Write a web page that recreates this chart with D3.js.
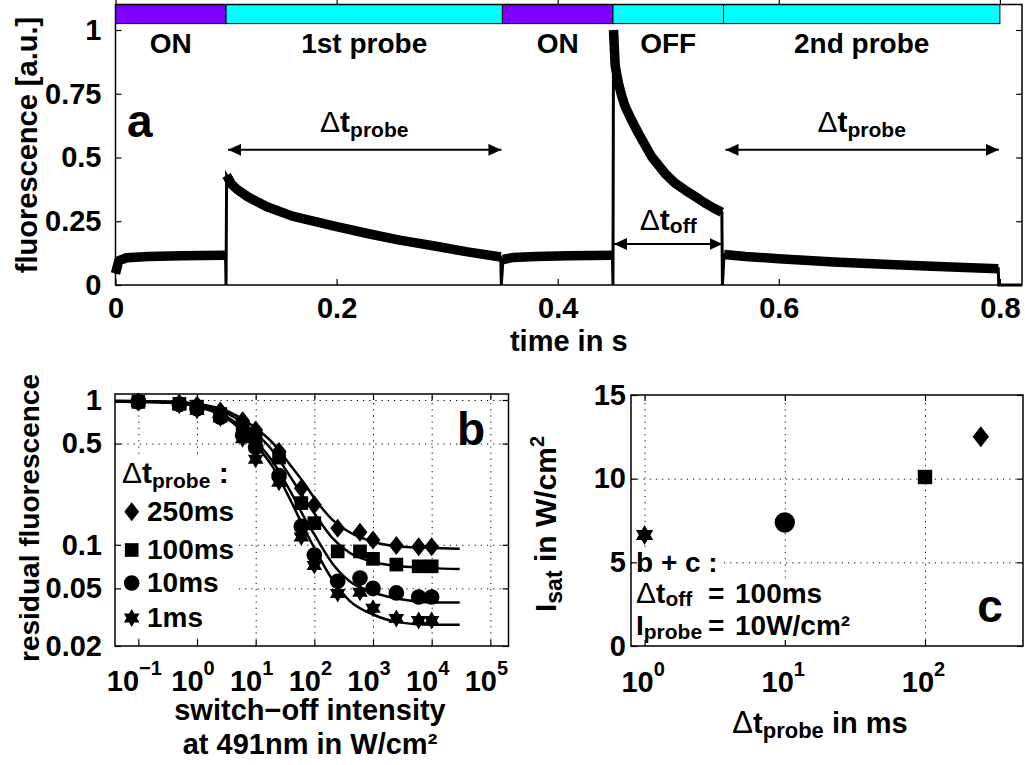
<!DOCTYPE html>
<html>
<head>
<meta charset="utf-8">
<script src="https://cdn.jsdelivr.net/npm/d3@7"></script>
<style>
  body { margin: 0; background: #fff; }
  text { font-family: "Liberation Sans", Arial, Helvetica, sans-serif; font-weight: bold; fill: #000; }
</style>
</head>
<body>
<svg id="fig" width="1025" height="765"></svg>
<script>
// ---------- panel a : fluorescence trace ----------
const phaseStart = [0, 0.1, 0.35, 0.45, 0.55];
const phaseEnd = [0.1, 0.35, 0.45, 0.55, 0.8];
const phaseKind = ["on", "probe", "on", "off", "probe"];
const phaseLabels = ["ON", "1st probe", "ON", "OFF", "2nd probe"];

// (band centre), 0 = switching gap
const traceTime = [0, 0.003, 0.01, 0.03, 0.06, 0.0995, 0.1, 0.1005, 0.105, 0.11, 0.12, 0.137, 0.16, 0.197, 0.23, 0.257, 0.29, 0.317, 0.3485,
  0.349, 0.3505, 0.36, 0.38, 0.41, 0.4495, 0.45, 0.4505, 0.452, 0.455, 0.458, 0.461, 0.467, 0.473, 0.485, 0.497, 0.506, 0.515, 0.525, 0.533, 0.541, 0.5485,
  0.549, 0.5505, 0.57, 0.6, 0.65, 0.7, 0.75, 0.7985, 0.799, 0.82];
const traceValue = [0.045, 0.095, 0.107, 0.112, 0.115, 0.117, 0, 0.43, 0.395, 0.375, 0.345, 0.307, 0.27, 0.232, 0.2, 0.176, 0.152, 0.131, 0.11,
  0, 0.1, 0.108, 0.112, 0.115, 0.117, 0, 1.0, 0.86, 0.79, 0.74, 0.7, 0.645, 0.595, 0.503, 0.438, 0.4, 0.373, 0.345, 0.322, 0.302, 0.285,
  0, 0.12, 0.112, 0.103, 0.09, 0.08, 0.072, 0.064, 0, 0];

const timeTicks = [0, 0.2, 0.4, 0.6, 0.8];
const fluorTicks = [0, 0.25, 0.5, 0.75, 1];
const probeArrowStart = [0.1, 0.55];
const probeArrowEnd = [0.35, 0.8];
const probeArrowLevel = 0.53;
const offArrowSpan = [0.45, 0.55];
const offArrowLevel = 0.161;

// ---------- panel b : residual fluorescence ----------
const intensity = [0.1, 0.5, 1, 2.5, 6, 10, 25, 60, 100, 250, 600, 1000, 2500, 6000, 10000];
const res250 = [0.97, 0.95, 0.92, 0.84, 0.72, 0.62, 0.44, 0.246, 0.189, 0.13, 0.122, 0.108, 0.099, 0.097, 0.097];
const res100 = [0.97, 0.94, 0.9, 0.8, 0.64, 0.55, 0.4, 0.194, 0.141, 0.09, 0.09, 0.08, 0.073, 0.071, 0.071];
const res10 = [0.97, 0.93, 0.87, 0.76, 0.57, 0.47, 0.3, 0.134, 0.085, 0.056, 0.059, 0.05, 0.0465, 0.0436, 0.0436];
const res1 = [0.96, 0.92, 0.85, 0.75, 0.54, 0.39, 0.27, 0.113, 0.072, 0.046, 0.047, 0.0365, 0.031, 0.03, 0.03];

const fitIntensity = [0.04, 0.1, 0.3, 1, 3, 10, 20, 40, 70, 100, 200, 400, 1000, 3000, 10000, 30000];
const fit250 = [0.985, 0.98, 0.975, 0.94, 0.85, 0.64, 0.5, 0.35, 0.26, 0.21, 0.15, 0.122, 0.105, 0.097, 0.095, 0.094];
const fit100 = [0.985, 0.98, 0.97, 0.93, 0.82, 0.59, 0.44, 0.29, 0.205, 0.165, 0.112, 0.088, 0.076, 0.071, 0.069, 0.068];
const fit10 = [0.975, 0.97, 0.96, 0.91, 0.78, 0.52, 0.37, 0.23, 0.15, 0.118, 0.075, 0.056, 0.047, 0.042, 0.04, 0.04];
const fit1 = [0.975, 0.97, 0.96, 0.9, 0.76, 0.49, 0.34, 0.2, 0.125, 0.095, 0.058, 0.041, 0.033, 0.029, 0.028, 0.028];

const seriesNames = ["250ms", "100ms", "10ms", "1ms"];
const intensityTicks = [0.1, 1, 10, 100, 1000, 10000, 100000];
const intensityExp = ["\u22121", "0", "1", "2", "3", "4", "5"];
const residualTicks = [0.02, 0.05, 0.1, 0.5, 1];

// ---------- panel c : saturation intensity ----------
const probeTime = [1, 10, 100, 250];
const iSat = [6.63, 7.38, 10.1, 12.5];
const probeTicks = [1, 10, 100];
const probeExp = ["0", "1", "2"];
const iSatTicks = [0, 5, 10, 15];

// ---------- styles ----------
const phaseColor = { on: "#8000ff", probe: "#00ffff", off: "#00ffff" };
const seriesSymbol = ["diamond", "square", "circle", "star"];
const FS = 27;     // text inside the plots
const TS = 29;     // tick labels
const LS = 29;     // axis titles

const svg = d3.select("#fig");
const defs = svg.append("defs");
defs.append("marker").attr("id", "head")
  .attr("viewBox", "0 0 13 12").attr("refX", 13).attr("refY", 6)
  .attr("markerWidth", 13).attr("markerHeight", 12)
  .attr("markerUnits", "userSpaceOnUse").attr("orient", "auto-start-reverse")
  .append("path").attr("d", "M0,0L13,6L0,12Z").attr("fill", "#000");

// text with sub / superscripts; parts: {t, sub, sup, light, size, x}
function rich(g, x, y, parts, opt = {}) {
  const t = g.append("text").attr("x", x).attr("y", y)
    .attr("font-size", opt.size || FS)
    .attr("text-anchor", opt.anchor || "start");
  if (opt.rotate) t.attr("transform", `rotate(${opt.rotate},${x},${y})`);
  let shift = 0;
  parts.forEach(p => {
    const s = t.append("tspan").text(p.t);
    const want = p.sub ? (p.shift || 7) : p.sup ? -(p.shift || 12) : 0;
    if (p.x != null) s.attr("x", p.x);
    if (want !== shift) { s.attr("dy", want - shift); shift = want; }
    if (p.sub || p.sup) s.attr("font-size", p.size || 19);
    else if (p.size) s.attr("font-size", p.size);
    if (p.light) s.attr("font-weight", "normal");
  });
  if (opt.bg) {
    const b = t.node().getBBox();
    g.insert("rect", () => t.node())
      .attr("x", b.x - 3).attr("y", b.y + 2).attr("width", b.width + 6).attr("height", b.height - 2)
      .attr("fill", "#fff");
  }
  return t;
}

function symbolPath(kind, s) {
  if (kind === "diamond") return `M0,${-s}L${s * 0.78},0L0,${s}L${-s * 0.78},0Z`;
  if (kind === "square") return `M${-s * 0.72},${-s * 0.72}h${s * 1.44}v${s * 1.44}h${-s * 1.44}Z`;
  if (kind === "circle") return d3.symbol(d3.symbolCircle, Math.PI * s * s * 0.85)();
  // hexagram
  const pts = d3.range(12).map(i => {
    const a = -Math.PI / 2 + i * Math.PI / 6;
    const r = i % 2 ? s / Math.sqrt(3) : s;
    return [r * Math.cos(a), r * Math.sin(a)];
  });
  return "M" + pts.join("L") + "Z";
}

function styleAxis(g) {
  g.select(".domain").remove();
  g.attr("font-family", null).attr("font-size", TS);
  g.selectAll(".tick line").attr("stroke", "#000").attr("stroke-width", 1.2);
  g.selectAll(".tick text").attr("font-size", TS).attr("fill", "#000");
}

function grid(g, axis) {
  g.call(axis);
  g.select(".domain").remove();
  g.selectAll(".tick line").attr("stroke", "#000").attr("stroke-width", 1)
    .attr("stroke-dasharray", "1.2,5");
  g.selectAll(".tick text").remove();
}

// ================= panel a =================
const xA = d3.scaleLinear().domain([0, 0.82]).range([115.5, 1022]);
const yA = d3.scaleLinear().domain([0, 1.1]).range([285, 4.5]);
const gA = svg.append("g");

const trace = traceTime.map((t, i) => ({ t, f: traceValue[i] }));
gA.append("path").datum(trace)
  .attr("d", d3.line().x(d => xA(d.t)).y(d => yA(d.f)))
  .attr("fill", "none").attr("stroke", "#000").attr("stroke-width", 3);
gA.append("path").datum(trace)
  .attr("d", d3.line().defined(d => d.f > 0).x(d => xA(d.t)).y(d => yA(d.f)))
  .attr("fill", "none").attr("stroke", "#000").attr("stroke-width", 9.5)
  .attr("stroke-linejoin", "round").attr("stroke-linecap", "butt");

gA.append("g").attr("transform", `translate(0,${yA(0)})`)
  .call(d3.axisBottom(xA).tickValues(timeTicks).tickSize(-6).tickPadding(12).tickFormat(d3.format("")))
  .call(styleAxis);
gA.append("g").attr("transform", `translate(0,${yA(1.1)})`)
  .call(d3.axisTop(xA).tickValues(timeTicks).tickSize(5).tickFormat(""))
  .call(styleAxis);
gA.append("g").attr("transform", `translate(${xA(0)},0)`)
  .call(d3.axisLeft(yA).tickValues(fluorTicks).tickSize(-6).tickPadding(14).tickFormat(d3.format("")))
  .call(styleAxis);
gA.append("g").attr("transform", `translate(${xA(0.82)},0)`)
  .call(d3.axisRight(yA).tickValues(fluorTicks).tickSize(-6).tickFormat(""))
  .call(styleAxis);

// illumination bar
gA.selectAll("rect.phase").data(phaseStart).enter().append("rect")
  .attr("class", "phase")
  .attr("x", (d) => xA(d))
  .attr("y", yA(1.1))
  .attr("width", (d, i) => xA(phaseEnd[i]) - xA(d))
  .attr("height", yA(1.025) - yA(1.1))
  .attr("fill", (d, i) => phaseColor[phaseKind[i]])
  .attr("stroke", "#000").attr("stroke-width", 1);
gA.selectAll("text.phase").data(phaseLabels).enter().append("text")
  .attr("class", "phase")
  .attr("x", (d, i) => xA((phaseStart[i] + phaseEnd[i]) / 2))
  .attr("y", yA(0.91))
  .attr("text-anchor", "middle").attr("font-size", 28)
  .text(d => d);

gA.append("rect").attr("x", xA(0)).attr("y", yA(1.1))
  .attr("width", xA(0.82) - xA(0)).attr("height", yA(0) - yA(1.1))
  .attr("fill", "none").attr("stroke", "#000").attr("stroke-width", 1.5);

// arrows
probeArrowStart.forEach((s, i) => {
  gA.append("line")
    .attr("x1", xA(s) + 2).attr("x2", xA(probeArrowEnd[i]) - 1)
    .attr("y1", yA(probeArrowLevel)).attr("y2", yA(probeArrowLevel))
    .attr("stroke", "#000").attr("stroke-width", 2)
    .attr("marker-start", "url(#head)").attr("marker-end", "url(#head)");
  rich(gA, xA((s + probeArrowEnd[i]) / 2), yA(probeArrowLevel) - 18,
    [{ t: "\u0394", light: true, size: 30 }, { t: "t", size: 30 }, { t: "probe", sub: true, size: 21, shift: 5 }],
    { anchor: "middle" });
});
gA.append("line")
  .attr("x1", xA(offArrowSpan[0]) + 1).attr("x2", xA(offArrowSpan[1]) - 1)
  .attr("y1", yA(offArrowLevel)).attr("y2", yA(offArrowLevel))
  .attr("stroke", "#000").attr("stroke-width", 2)
  .attr("marker-start", "url(#head)").attr("marker-end", "url(#head)");
rich(gA, xA((offArrowSpan[0] + offArrowSpan[1]) / 2), yA(offArrowLevel) - 14,
  [{ t: "\u0394", light: true, size: 30 }, { t: "t", size: 30 }, { t: "off", sub: true, size: 21, shift: 3 }],
  { anchor: "middle" });

gA.append("text").attr("x", 127).attr("y", 137).attr("font-size", 46).text("a");
gA.append("text").attr("x", 37).attr("y", 145).attr("font-size", LS)
  .attr("text-anchor", "middle").attr("transform", "rotate(-90,37,145)")
  .text("fluorescence [a.u.]");
gA.append("text").attr("x", (xA(0) + xA(0.82)) / 2).attr("y", 351)
  .attr("text-anchor", "middle").attr("font-size", LS).text("time in s");

// ================= panel b =================
const xB = d3.scaleLog().domain([0.04, 2.04e5]).range([115, 508.5]);
const yB = d3.scaleLog().domain([0.02, 1.1]).range([646, 394]);
const gB = svg.append("g");

gB.append("g").attr("transform", `translate(0,${yB(0.02)})`)
  .call(g => grid(g, d3.axisBottom(xB).tickValues(intensityTicks).tickSize(yB(1.1) - yB(0.02))));
gB.append("g").attr("transform", `translate(${xB(0.04)},0)`)
  .call(g => grid(g, d3.axisRight(yB).tickValues(residualTicks.slice(1)).tickSize(xB(2.04e5) - xB(0.04))));

const resSeries = [res250, res100, res10, res1];
const fitSeries = [fit250, fit100, fit10, fit1];
const lineB = d3.line().curve(d3.curveMonotoneX).x(d => xB(d[0])).y(d => yB(d[1]));

// legend boxes first so curves sit above them
const legendG = gB.append("g");

fitSeries.forEach(f => {
  gB.append("path").datum(fitIntensity.map((x, i) => [x, f[i]]))
    .attr("d", lineB).attr("fill", "none").attr("stroke", "#000").attr("stroke-width", 2.5);
});
const bSize = { diamond: 9.5, square: 9.5, circle: 8.5, star: 9 };
resSeries.forEach((r, k) => {
  gB.selectAll(null).data(intensity).enter().append("path")
    .attr("transform", (d, i) => `translate(${xB(d)},${yB(r[i])})`)
    .attr("d", symbolPath(seriesSymbol[k], bSize[seriesSymbol[k]]))
    .attr("fill", "#000");
});

gB.append("g").attr("transform", `translate(0,${yB(0.02)})`)
  .call(d3.axisBottom(xB).tickValues(intensityTicks).tickSize(-6).tickPadding(12).tickFormat(""))
  .call(styleAxis);
gB.append("g").attr("transform", `translate(0,${yB(1.1)})`)
  .call(d3.axisTop(xB).tickValues(intensityTicks).tickSize(-6).tickFormat(""))
  .call(styleAxis);
gB.append("g").attr("transform", `translate(${xB(0.04)},0)`)
  .call(d3.axisLeft(yB).tickValues(residualTicks).tickSize(-6).tickPadding(13).tickFormat(d => String(d)))
  .call(styleAxis);
gB.append("g").attr("transform", `translate(${xB(2.04e5)},0)`)
  .call(d3.axisRight(yB).tickValues(residualTicks).tickSize(-6).tickFormat(""))
  .call(styleAxis);
gB.append("rect").attr("x", xB(0.04)).attr("y", yB(1.1))
  .attr("width", xB(2.04e5) - xB(0.04)).attr("height", yB(0.02) - yB(1.1))
  .attr("fill", "none").attr("stroke", "#000").attr("stroke-width", 1.5);

intensityTicks.forEach((d, i) => {
  rich(gB, xB(d) - 4, 691, [{ t: "10" }, { t: intensityExp[i], sup: true, shift: 16, size: 20 }], { anchor: "middle", size: TS });
});

// legend
rich(legendG, 122, 483, [{ t: "\u0394", light: true, size: 30 }, { t: "t", size: 30 }, { t: "probe", sub: true, size: 21, shift: 5 }, { t: " :", size: 30 }], { bg: true });
const legY = [511.7, 550, 583, 618];
seriesNames.forEach((n, k) => {
  rich(legendG, 147, legY[k] + 9, [{ t: n }], { bg: true, size: 28 });
  legendG.append("path").attr("transform", `translate(131.7,${legY[k]})`)
    .attr("d", symbolPath(seriesSymbol[k], bSize[seriesSymbol[k]])).attr("fill", "#000");
});
legendG.insert("rect", ":first-child").attr("x", 117).attr("y", 460).attr("width", 122).attr("height", 176).attr("fill", "#fff");

gB.append("text").attr("x", 457).attr("y", 445).attr("font-size", 46).text("b");
gB.append("text").attr("x", 39).attr("y", 518).attr("font-size", 28)
  .attr("text-anchor", "middle").attr("transform", "rotate(-90,39,518)")
  .text("residual fluorescence");
gB.append("text").attr("x", 310).attr("y", 720).attr("text-anchor", "middle").attr("font-size", LS)
  .text("switch\u2212off intensity");
gB.append("text").attr("x", 310).attr("y", 754).attr("text-anchor", "middle").attr("font-size", LS)
  .text("at 491nm in W/cm\u00b2");

// ================= panel c =================
const xC = d3.scaleLog().domain([0.8, 500]).range([631, 1023]);
const yC = d3.scaleLinear().domain([0, 15]).range([646, 395]);
const gC = svg.append("g");

gC.append("g").attr("transform", `translate(0,${yC(0)})`)
  .call(g => grid(g, d3.axisBottom(xC).tickValues(probeTicks).tickSize(yC(15) - yC(0))));
gC.append("g").attr("transform", `translate(${xC(0.8)},0)`)
  .call(g => grid(g, d3.axisRight(yC).tickValues([5, 10]).tickSize(xC(500) - xC(0.8))));

// text block with white boxes
rich(gC, 636, 572, [{ t: "b + c :" }], { bg: true, size: 28 });
rich(gC, 636, 603, [{ t: "\u0394", light: true, size: 30 }, { t: "t" }, { t: "off", sub: true, size: 21, shift: 3 }, { t: "=", x: 708 }, { t: "100ms", x: 735 }], { bg: true, size: 28 });
rich(gC, 636, 635, [{ t: "I" }, { t: "probe", sub: true, size: 21, shift: 4 }, { t: "=", x: 708 }, { t: "10W/cm\u00b2", x: 735 }], { bg: true, size: 28 });

const cSize = { diamond: 10.5, square: 10, circle: 11, star: 10 };
const cSymbol = ["star", "circle", "square", "diamond"];
gC.selectAll(null).data(probeTime).enter().append("path")
  .attr("transform", (d, i) => `translate(${xC(d)},${yC(iSat[i])})`)
  .attr("d", (d, i) => symbolPath(cSymbol[i], cSize[cSymbol[i]]))
  .attr("fill", "#000");

gC.append("g").attr("transform", `translate(0,${yC(0)})`)
  .call(d3.axisBottom(xC).tickValues(probeTicks).tickSize(-6).tickFormat(""))
  .call(styleAxis);
gC.append("g").attr("transform", `translate(0,${yC(15)})`)
  .call(d3.axisTop(xC).tickValues(probeTicks).tickSize(-6).tickFormat(""))
  .call(styleAxis);
gC.append("g").attr("transform", `translate(${xC(0.8)},0)`)
  .call(d3.axisLeft(yC).tickValues(iSatTicks).tickSize(-6).tickPadding(5).tickFormat(d3.format("")))
  .call(styleAxis);
gC.append("g").attr("transform", `translate(${xC(500)},0)`)
  .call(d3.axisRight(yC).tickValues(iSatTicks).tickSize(-6).tickFormat(""))
  .call(styleAxis);
gC.append("rect").attr("x", xC(0.8)).attr("y", yC(15))
  .attr("width", xC(500) - xC(0.8)).attr("height", yC(0) - yC(15))
  .attr("fill", "none").attr("stroke", "#000").attr("stroke-width", 1.5);

probeTicks.forEach((d, i) => {
  rich(gC, xC(d) - 1.5, 692, [{ t: "10" }, { t: probeExp[i], sup: true, shift: 16, size: 20 }], { anchor: "middle", size: TS });
});

gC.append("text").attr("x", 990).attr("y", 622).attr("font-size", 46).attr("text-anchor", "middle").text("c");
rich(gC, 556, 524, [{ t: "I" }, { t: "sat", sub: true, size: 23, shift: 6 }, { t: " in W/cm" }, { t: "2", sup: true, size: 20, shift: 12 }],
  { anchor: "middle", rotate: -90, size: 30 });
rich(gC, 820, 733, [{ t: "\u0394", light: true, size: 31 }, { t: "t" }, { t: "probe", sub: true, size: 22, shift: 5 }, { t: " in ms" }], { anchor: "middle", size: 29 });
</script>
</body>
</html>
